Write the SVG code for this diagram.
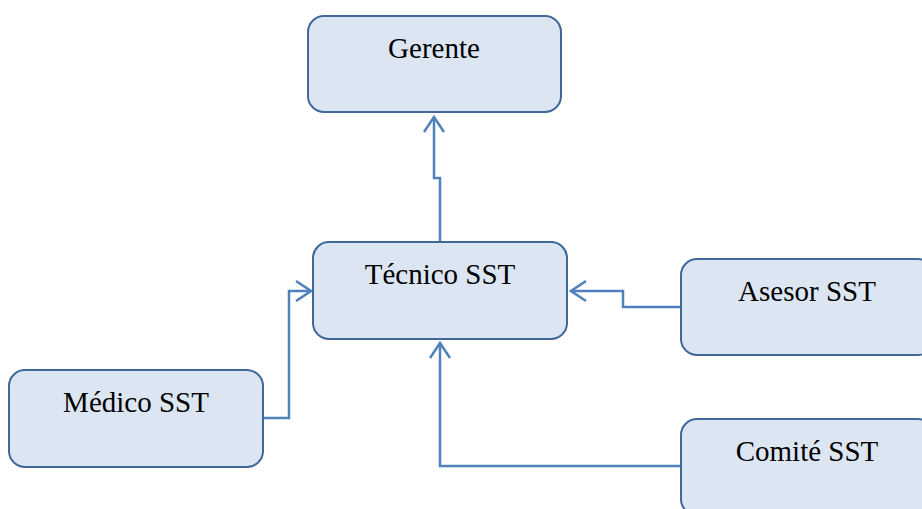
<svg xmlns="http://www.w3.org/2000/svg" width="922" height="509" viewBox="0 0 922 509">
<defs>
<style>
.box{fill:#dce6f2;stroke:#41689a;stroke-width:2}
.lbl{font-family:'Liberation Serif','Times New Roman',Times,serif;font-size:29px;fill:#000;text-anchor:middle}
.conn{fill:none;stroke:#4f81bd;stroke-width:2.5}
</style>
<marker id="arr" viewBox="-16 -12 18 24" markerWidth="18" markerHeight="24" refX="0" refY="0" orient="auto" markerUnits="userSpaceOnUse">
<path d="M-15,-10 L0,0 L-15,10" fill="none" stroke="#4f81bd" stroke-width="2.5"/>
</marker>
</defs>
<rect width="922" height="509" fill="#fff"/>
<g id="connectors">
<path class="conn" d="M440,242 V178 H434 V117" marker-end="url(#arr)"/>
<path class="conn" d="M263,418 H289 V291 H311" marker-end="url(#arr)"/>
<path class="conn" d="M681,307 H623 V291 H571" marker-end="url(#arr)"/>
<path class="conn" d="M681,466 H440 V343" marker-end="url(#arr)"/>
</g>
<g id="gerente">
<rect class="box" x="308" y="16" width="253" height="96" rx="16"/>
<text class="lbl" x="434" y="58" font-family="Liberation Serif, serif">Gerente</text>
</g>
<g id="tecnico">
<rect class="box" x="313" y="242" width="254" height="97" rx="16"/>
<text class="lbl" x="440" y="284" font-family="Liberation Serif, serif">Técnico SST</text>
</g>
<g id="medico">
<rect class="box" x="9" y="370" width="254" height="97" rx="16"/>
<text class="lbl" x="136" y="412" font-family="Liberation Serif, serif">Médico SST</text>
</g>
<g id="asesor">
<rect class="box" x="681" y="259" width="253" height="96" rx="16"/>
<text class="lbl" x="807" y="301" font-family="Liberation Serif, serif">Asesor SST</text>
</g>
<g id="comite">
<rect class="box" x="681" y="419" width="253" height="96" rx="16"/>
<text class="lbl" x="807" y="461" font-family="Liberation Serif, serif">Comité SST</text>
</g>
</svg>
